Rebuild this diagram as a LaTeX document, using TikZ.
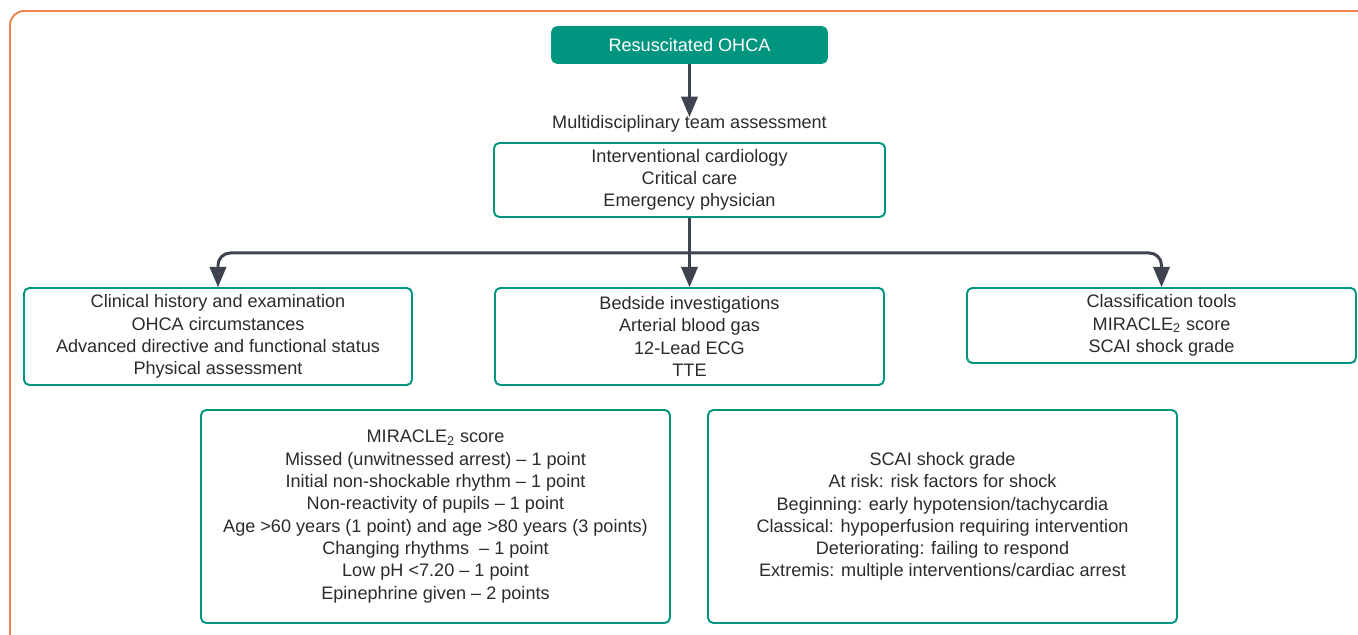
\documentclass[tikz,border=0pt]{standalone}
\usepackage{fontspec}
\setmainfont{Liberation Sans}
\usetikzlibrary{fit,arrows}

\definecolor{teal}{HTML}{00957F}
\definecolor{frame}{HTML}{EA8550}
\definecolor{flowgray}{HTML}{3E4350}
\definecolor{txt}{HTML}{2B2B2B}

\tikzset{
    box/.style={draw=teal, line width=1.1pt, rounded corners=3pt, align=center, inner sep=0pt,
        text=txt, font=\fontsize{10.3}{12.7}\selectfont},
    flow/.style={->, >=triangle 45, draw=flowgray, line width=1.7pt, rounded corners=7pt}
}

\begin{document}
\begin{tikzpicture}
            \useasboundingbox (0,0) rectangle (27.16,-12.7);
            \draw[frame, line width=1.1pt, rounded corners=8pt] (0.2,-13) |- (27.5,-0.22);

            \node[box, fill=teal, text=white, minimum width=5.5cm, minimum height=0.72cm] (Resuscitated OHCA) at (13.79,-0.9) {Resuscitated OHCA};
            \node[text=txt, font=\fontsize{10.3}{12.7}\selectfont] (MDT Label) at (13.79,-2.48) {Multidisciplinary team assessment};

            \node[box, minimum width=7.82cm, minimum height=1.48cm] (Team) at (13.79,-3.6) {Interventional cardiology\\
                Critical care\\
                Emergency physician};

            \node[box, minimum width=7.76cm, minimum height=1.94cm] (Clinical) at (4.36,-6.73) {Clinical history and examination\\
                OHCA circumstances\\
                Advanced directive and functional status\\
                Physical assessment};
            \node[box, minimum width=7.78cm, minimum height=1.94cm] (Bedside) at (13.79,-6.73) {Bedside investigations\\
                Arterial blood gas\\
                12-Lead ECG\\
                TTE};
            \node[box, minimum width=7.78cm, minimum height=1.5cm] (Classification) at (23.23,-6.51) {Classification tools\\
                MIRACLE\textsubscript{2} score\\
                SCAI shock grade};

            \node[box, minimum width=9.38cm, minimum height=4.26cm] (MIRACLE) at (8.71,-10.33) {MIRACLE\textsubscript{2} score\\
                Missed (unwitnessed arrest) – 1 point\\
                Initial non-shockable rhythm – 1 point\\
                Non-reactivity of pupils – 1 point\\
                Age >60 years (1 point) and age >80 years (3 points)\\
                Changing rhythms \ – 1 point\\
                Low pH <7.20 – 1 point\\
                Epinephrine given – 2 points};
            \node[box, minimum width=9.38cm, minimum height=4.26cm] (SCAI) at (18.85,-10.33) {SCAI shock grade\\
                At risk: risk factors for shock\\
                Beginning: early hypotension/tachycardia\\
                Classical: hypoperfusion requiring intervention\\
                Deteriorating: failing to respond\\
                Extremis: multiple interventions/cardiac arrest};

            \coordinate (Branch) at ([yshift=-0.7cm]Team.south);

            \draw[flow] (Resuscitated OHCA) to ([yshift=-0.15cm]MDT Label.north);
            \draw[flow] (Team) to (Bedside);
            \draw[flow] (Branch) -| (Clinical.north);
            \draw[flow] (Branch) -| (Classification.north);
        \end{tikzpicture}
\end{document}
